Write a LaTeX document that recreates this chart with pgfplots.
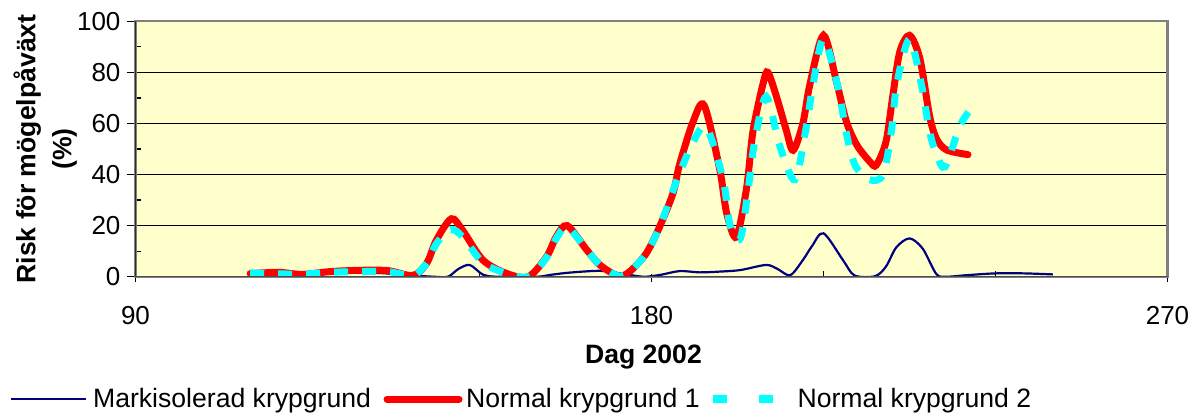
\documentclass[border=0pt]{standalone}
\usepackage{fontspec}
\setmainfont{Liberation Sans}
\usepackage{pgfplots}
\pgfplotsset{compat=1.18}
\definecolor{plotbg}{RGB}{255,255,204}
\definecolor{markblue}{RGB}{0,0,128}
\definecolor{normred}{RGB}{255,0,0}
\definecolor{normcyan}{RGB}{0,255,255}

\begin{document}
\begin{tikzpicture}
\begin{axis}[
  at={(0,0)}, anchor=south west,
  scale only axis,
  width=516pt, height=127.7pt,
  xmin=90, xmax=270, ymin=0, ymax=100,
  xtick={90,180,270}, minor xtick={120,150,210,240},
  ytick={0,20,...,100}, minor ytick={10,30,...,90},
  xtick pos=bottom, ytick pos=left,
  tick align=outside,
  major tick length=4pt, minor tick length=3pt,
  major x tick style={yshift=1.5pt},
  minor x tick style={yshift=3pt},
  minor y tick style={xshift=3pt},
  tick style={black, line width=0.6pt},
  ymajorgrids, major grid style={black, line width=0.6pt},
  axis background/.style={fill=plotbg},
  axis line style={draw=gray, line width=1.1pt},
  /pgf/number format/assume math mode=true,
  every tick label/.append style={font=\fontsize{13}{15.6}\selectfont},
  xticklabel style={yshift=-7.5pt},
  xlabel={Dag 2002},
  xlabel style={at={(axis description cs:0.4922,0)}, anchor=north, inner sep=0pt,
    yshift=-34pt, font=\bfseries\fontsize{13.3}{16}\selectfont},
  ylabel={Risk för mögelpåväxt\\(\%)},
  ylabel style={at={(axis description cs:-0.1187,0.5)}, anchor=north, inner sep=0pt,
    align=center, font=\bfseries\fontsize{13.3}{18}\selectfont},
  legend columns=-1,
  legend style={at={(axis description cs:-0.1216,-0.479)}, anchor=west,
    draw=none, fill=none, inner sep=0pt, outer sep=0pt,
    nodes={inner sep=0pt}, font=\fontsize{13.3}{16}\selectfont,
    /tikz/every even column/.append style={column sep=0pt}},
]
\addplot[markblue, line width=1.1pt, smooth,
  legend image code/.code={
    \path[draw=none, fill=none] (0pt,-4pt) rectangle (41pt,4pt);
    \draw[markblue, line width=1.1pt, solid] (0pt,0pt) -- (37.5pt,0pt);}]
  coordinates {
  (110,0.8) (118,1.3) (125,1.5) (132,1.5) (138,0.5) (142,0) (144.5,0)
  (146.3,3) (148.3,4.6) (150.6,0.8) (153,0) (160,0) (162.3,0.7)
  (165.7,1.6) (171,2.3) (174.5,1.3) (178.5,0) (181.5,0.7) (184.9,2.2)
  (188.4,1.7) (191.9,2) (195.5,2.6) (200,4.6) (202,3) (204.2,0.6)
  (206.4,6.5) (208,12) (210,17) (213.4,6.5) (215.4,0.5) (219,0.2)
  (220.9,4) (222.7,11.5) (225,15) (227.3,11) (229.7,1) (231.5,0)
  (235,0.6) (240,1.3) (245,1.3) (250,0.9)
  };
\addlegendentry{Markisolerad krypgrund}
\addplot[normred, line width=3.5pt, smooth, line cap=round,
  legend image code/.code={
    \path[draw=none, fill=none] (0pt,-4pt) rectangle (47.5pt,4pt);
    \draw[normred, line width=3.5pt, line cap=round, solid] (8pt,0pt) -- (44pt,0pt);}]
  coordinates {
  (110,1.2) (115,1.7) (119,0.9) (124,2.0) (129,2.5) (134,2.4)
  (138.4,0.5) (140.8,5.3) (142.5,14.4) (145.1,22.7) (147.1,18)
  (150.6,6.5) (154.7,1.3) (158.5,0) (161.7,7.8) (163.4,15.7)
  (165.3,20) (168.7,10.5) (171,4.6) (174.2,0.3) (176.2,2) (179.1,9.2)
  (181.5,20) (183.8,33) (184.9,44) (187.3,61) (189.2,67) (191.9,42)
  (193.1,25) (194.8,15.5) (196.6,35) (197.7,57) (199.5,76) (200.3,80)
  (201.8,70.5) (203.5,57.4) (204.7,49.5) (206.4,60) (207.6,75)
  (210,94.5) (212.3,76) (214,60.7) (215.8,51.6) (218.1,45) (219.2,43.7)
  (220.9,52.9) (222.1,71) (223.3,88) (225,94.5) (226.8,85.5)
  (228.5,63) (229.7,54) (231.5,49.6) (235.2,47.8)
  };
\addlegendentry{Normal krypgrund 1}
\addplot[normcyan, line width=3.5pt, smooth, dash pattern=on 7pt off 7pt,
  legend image code/.code={
    \path[draw=none, fill=none] (0pt,-4pt) rectangle (49pt,4pt);
    \path[fill=normcyan, draw=none] (6.5pt,-2pt) rectangle (13.5pt,2pt);
    \path[fill=normcyan, draw=none] (29.5pt,-2pt) rectangle (36.5pt,2pt);}]
  coordinates {
  (110,1.5) (114,1.2) (119,1.0) (124,1.7) (129,2.0) (134,2.0)
  (138.4,0.5) (140.8,5.3) (142.5,13) (145,18.5) (147.1,15.5)
  (150.6,5.5) (154.7,1.3) (158.5,0) (161.7,7.5) (163.4,15) (165.3,19.5)
  (168.7,10.5) (171,4.6) (174.2,0.3) (176.2,2) (179.1,9.2) (181.5,20)
  (183.8,34) (184.9,40.5) (187.3,53) (189.6,58.5) (192.5,38)
  (193.7,20) (195.5,15) (196.9,35) (198,53) (200,70.5) (202.4,51)
  (205,38) (207,58.7) (208.2,75.7) (210,93) (212.5,74.4) (214,56)
  (215.5,43.7) (218,38) (220.4,40) (221.9,58) (222.8,75.7) (225,93)
  (227.1,75) (228.5,56.8) (229.7,48) (231.2,43) (233.7,58.6) (235.3,64.5)
  };
\addlegendentry{Normal krypgrund 2}
\draw[black, line width=0.8pt] (rel axis cs:0,1) -- (rel axis cs:0,0);
\draw[black!70, line width=0.8pt] (rel axis cs:0,0) -- (rel axis cs:1,0);
\end{axis}
\pgfresetboundingbox
\path (-67.75pt,-67.65pt) rectangle (533.75pt,138.35pt);
\end{tikzpicture}
\end{document}
